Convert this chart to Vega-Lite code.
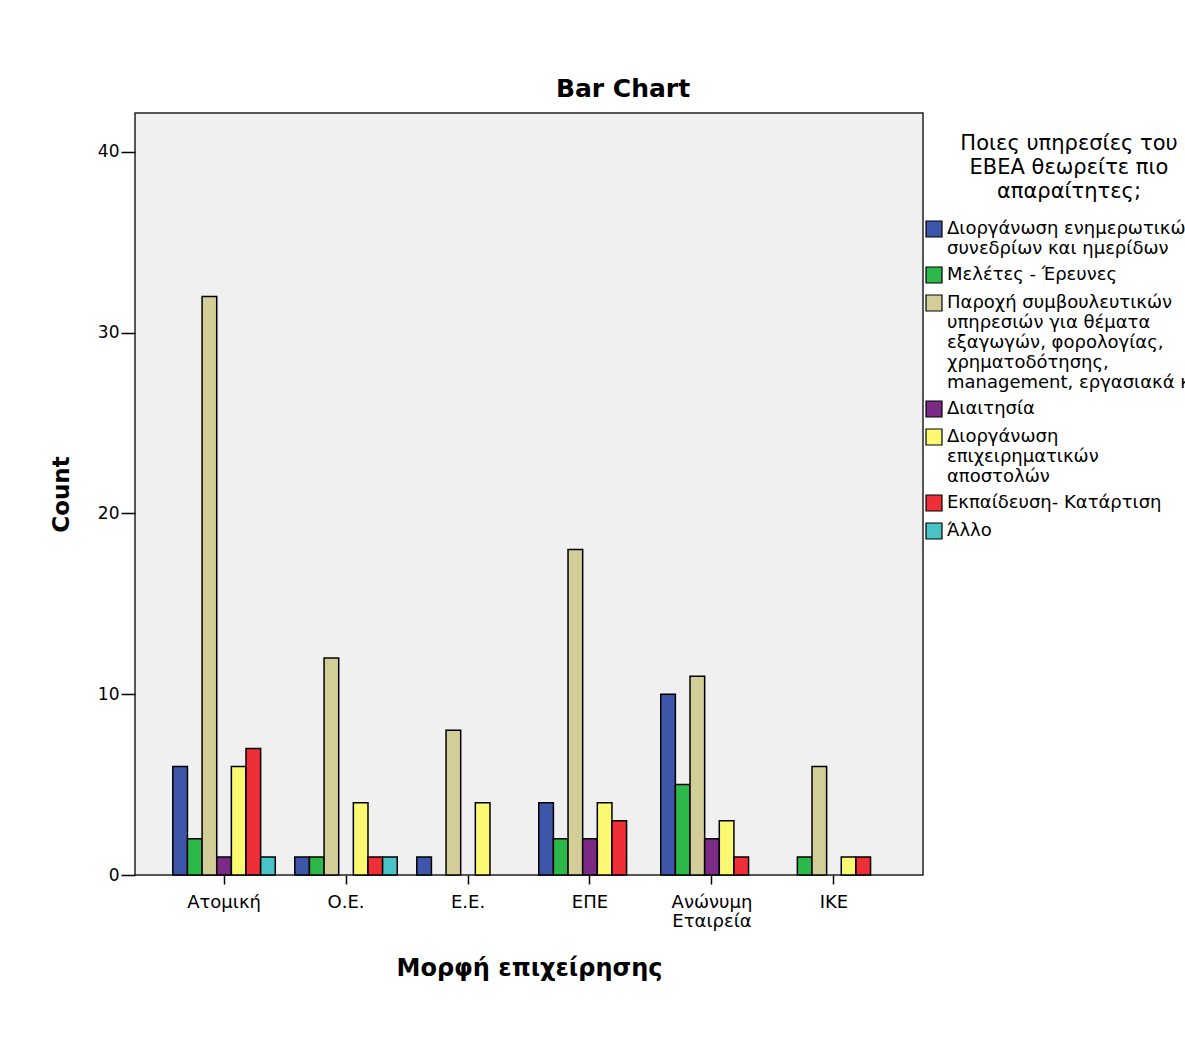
{
  "$schema": "https://vega.github.io/schema/vega-lite/v6.json",
  "width": 788,
  "height": 762,
  "autosize": "none",
  "padding": {"left": 135, "top": 113, "right": 262, "bottom": 187},
  "background": "white",
  "title": {"text": "Bar Chart", "font": "DejaVu Sans", "fontSize": 25, "fontWeight": "bold", "color": "#000000", "anchor": "middle", "dx": 94, "offset": 11},
  "data": {
    "values": [
      {"form": "Ατομική", "service": "Διοργάνωση ενημερωτικών\nσυνεδρίων και ημερίδων", "count": 6},
      {"form": "Ατομική", "service": "Μελέτες - Έρευνες", "count": 2},
      {"form": "Ατομική", "service": "Παροχή συμβουλευτικών\nυπηρεσιών για θέματα\nεξαγωγών, φορολογίας,\nχρηματοδότησης,\nmanagement, εργασιακά κλπ", "count": 32},
      {"form": "Ατομική", "service": "Διαιτησία", "count": 1},
      {"form": "Ατομική", "service": "Διοργάνωση\nεπιχειρηματικών\nαποστολών", "count": 6},
      {"form": "Ατομική", "service": "Εκπαίδευση- Κατάρτιση", "count": 7},
      {"form": "Ατομική", "service": "Άλλο", "count": 1},
      {"form": "Ο.Ε.", "service": "Διοργάνωση ενημερωτικών\nσυνεδρίων και ημερίδων", "count": 1},
      {"form": "Ο.Ε.", "service": "Μελέτες - Έρευνες", "count": 1},
      {"form": "Ο.Ε.", "service": "Παροχή συμβουλευτικών\nυπηρεσιών για θέματα\nεξαγωγών, φορολογίας,\nχρηματοδότησης,\nmanagement, εργασιακά κλπ", "count": 12},
      {"form": "Ο.Ε.", "service": "Διοργάνωση\nεπιχειρηματικών\nαποστολών", "count": 4},
      {"form": "Ο.Ε.", "service": "Εκπαίδευση- Κατάρτιση", "count": 1},
      {"form": "Ο.Ε.", "service": "Άλλο", "count": 1},
      {"form": "Ε.Ε.", "service": "Διοργάνωση ενημερωτικών\nσυνεδρίων και ημερίδων", "count": 1},
      {"form": "Ε.Ε.", "service": "Παροχή συμβουλευτικών\nυπηρεσιών για θέματα\nεξαγωγών, φορολογίας,\nχρηματοδότησης,\nmanagement, εργασιακά κλπ", "count": 8},
      {"form": "Ε.Ε.", "service": "Διοργάνωση\nεπιχειρηματικών\nαποστολών", "count": 4},
      {"form": "ΕΠΕ", "service": "Διοργάνωση ενημερωτικών\nσυνεδρίων και ημερίδων", "count": 4},
      {"form": "ΕΠΕ", "service": "Μελέτες - Έρευνες", "count": 2},
      {"form": "ΕΠΕ", "service": "Παροχή συμβουλευτικών\nυπηρεσιών για θέματα\nεξαγωγών, φορολογίας,\nχρηματοδότησης,\nmanagement, εργασιακά κλπ", "count": 18},
      {"form": "ΕΠΕ", "service": "Διαιτησία", "count": 2},
      {"form": "ΕΠΕ", "service": "Διοργάνωση\nεπιχειρηματικών\nαποστολών", "count": 4},
      {"form": "ΕΠΕ", "service": "Εκπαίδευση- Κατάρτιση", "count": 3},
      {"form": "Ανώνυμη Εταιρεία", "service": "Διοργάνωση ενημερωτικών\nσυνεδρίων και ημερίδων", "count": 10},
      {"form": "Ανώνυμη Εταιρεία", "service": "Μελέτες - Έρευνες", "count": 5},
      {"form": "Ανώνυμη Εταιρεία", "service": "Παροχή συμβουλευτικών\nυπηρεσιών για θέματα\nεξαγωγών, φορολογίας,\nχρηματοδότησης,\nmanagement, εργασιακά κλπ", "count": 11},
      {"form": "Ανώνυμη Εταιρεία", "service": "Διαιτησία", "count": 2},
      {"form": "Ανώνυμη Εταιρεία", "service": "Διοργάνωση\nεπιχειρηματικών\nαποστολών", "count": 3},
      {"form": "Ανώνυμη Εταιρεία", "service": "Εκπαίδευση- Κατάρτιση", "count": 1},
      {"form": "ΙΚΕ", "service": "Μελέτες - Έρευνες", "count": 1},
      {"form": "ΙΚΕ", "service": "Παροχή συμβουλευτικών\nυπηρεσιών για θέματα\nεξαγωγών, φορολογίας,\nχρηματοδότησης,\nmanagement, εργασιακά κλπ", "count": 6},
      {"form": "ΙΚΕ", "service": "Διοργάνωση\nεπιχειρηματικών\nαποστολών", "count": 1},
      {"form": "ΙΚΕ", "service": "Εκπαίδευση- Κατάρτιση", "count": 1}
    ]
  },
  "mark": {"type": "bar", "stroke": "#000000", "strokeWidth": 1.5},
  "encoding": {
    "x": {
      "field": "form", "type": "nominal",
      "sort": ["Ατομική", "Ο.Ε.", "Ε.Ε.", "ΕΠΕ", "Ανώνυμη Εταιρεία", "ΙΚΕ"],
      "scale": {"paddingInner": 0.16, "paddingOuter": 0.31},
      "axis": {
        "title": "Μορφή επιχείρησης",
        "titleFont": "DejaVu Sans", "titleFontSize": 24, "titleFontWeight": "bold", "titleColor": "#000000", "titlePadding": 26,
        "labelFont": "DejaVu Sans", "labelFontSize": 18, "labelColor": "#000000", "labelAngle": 0, "labelPadding": 9,
        "labelExpr": "split(datum.label, ' ')", "labelLineHeight": 19,
        "tickSize": 9, "tickColor": "#000000", "tickWidth": 1.5, "domain": false
      }
    },
    "xOffset": {
      "field": "service", "type": "nominal",
      "sort": ["Διοργάνωση ενημερωτικών\nσυνεδρίων και ημερίδων", "Μελέτες - Έρευνες", "Παροχή συμβουλευτικών\nυπηρεσιών για θέματα\nεξαγωγών, φορολογίας,\nχρηματοδότησης,\nmanagement, εργασιακά κλπ", "Διαιτησία", "Διοργάνωση\nεπιχειρηματικών\nαποστολών", "Εκπαίδευση- Κατάρτιση", "Άλλο"],
      "scale": {"paddingInner": 0, "paddingOuter": 0}
    },
    "y": {
      "field": "count", "type": "quantitative",
      "scale": {"domain": [0, 42.15], "nice": false},
      "axis": {
        "title": "Count", "values": [0, 10, 20, 30, 40], "grid": false,
        "titleFont": "DejaVu Sans", "titleFontSize": 23, "titleFontWeight": "bold", "titleColor": "#000000", "titlePadding": 24,
        "labelFont": "DejaVu Sans", "labelFontSize": 17, "labelColor": "#000000", "labelPadding": 2,
        "tickSize": 14, "tickColor": "#000000", "tickWidth": 1.5, "domain": false
      }
    },
    "color": {
      "field": "service", "type": "nominal",
      "sort": ["Διοργάνωση ενημερωτικών\nσυνεδρίων και ημερίδων", "Μελέτες - Έρευνες", "Παροχή συμβουλευτικών\nυπηρεσιών για θέματα\nεξαγωγών, φορολογίας,\nχρηματοδότησης,\nmanagement, εργασιακά κλπ", "Διαιτησία", "Διοργάνωση\nεπιχειρηματικών\nαποστολών", "Εκπαίδευση- Κατάρτιση", "Άλλο"],
      "scale": {"range": ["#3d56aa", "#2db84a", "#d3ce97", "#7b2a86", "#fbf872", "#ee2f37", "#48c3c8"]},
      "legend": {
        "title": ["Ποιες υπηρεσίες του", "ΕΒΕΑ θεωρείτε πιο", "απαραίτητες;"],
        "orient": "none", "legendX": 790, "legendY": 20,
        "titleFont": "DejaVu Sans", "titleFontSize": 21, "titleFontWeight": "normal", "titleColor": "#000000",
        "titleAnchor": "middle", "titleAlign": "center", "titleLineHeight": 24, "titlePadding": 18, "titleLimit": 400,
        "labelFont": "DejaVu Sans", "labelFontSize": 18, "labelColor": "#000000", "labelLimit": 400,
        "labelExpr": "split(datum.label, '\\n')", "labelOffset": 4,
        "symbolType": "square", "symbolSize": 256, "symbolStrokeColor": "#000000", "symbolStrokeWidth": 1.2,
        "rowPadding": 6
      }
    }
  },
  "config": {
    "view": {"fill": "#f0f0f0", "stroke": "#222222", "strokeWidth": 1.5}
  }
}
